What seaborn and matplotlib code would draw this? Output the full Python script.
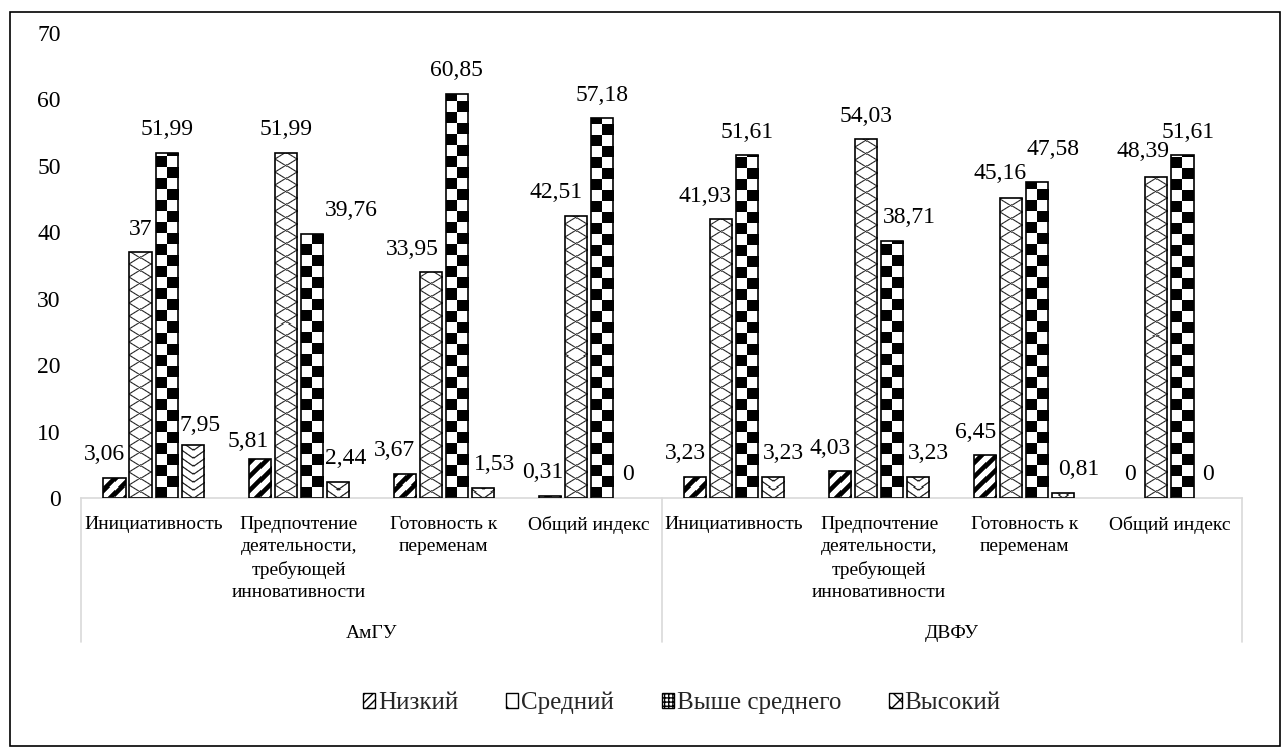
import numpy as np
import pandas as pd
import matplotlib
matplotlib.use("Agg")
import matplotlib.pyplot as plt
import seaborn as sns
from matplotlib.patches import Patch, Rectangle

# --- data -------------------------------------------------------------
universities = ["АмГУ", "ДВФУ"]
criteria = [
    "Инициативность",
    "Предпочтение\nдеятельности,\nтребующей\nинновативности",
    "Готовность к\nпеременам",
    "Общий индекс",
]
levels = ["Низкий", "Средний", "Выше среднего", "Высокий"]

amgu_low = [3.06, 5.81, 3.67, 0.31]
amgu_mid = [37, 51.99, 33.95, 42.51]
amgu_above = [51.99, 39.76, 60.85, 57.18]
amgu_high = [7.95, 2.44, 1.53, 0]

dvfu_low = [3.23, 4.03, 6.45, 0]
dvfu_mid = [41.93, 54.03, 45.16, 48.39]
dvfu_above = [51.61, 38.71, 47.58, 51.61]
dvfu_high = [3.23, 3.23, 0.81, 0]

y_ticks = [0, 10, 20, 30, 40, 50, 60, 70]

# label nudges in pixels (dx, dy), per level, per bar in plotting order
label_nudge = [
    [(-10, 0), (-11, -5), (-10, 0), (-7, 0), (-10, 0), (-10, 0), (-10, 0), (0, 0)],
    [(0, 0), (0, 0), (-18, 0), (-20, 0), (-16, 0), (0, 0), (-11, 2), (-13, 2)],
    [(0, 0), (40, 0), (0, 0), (0, 0), (0, 0), (17, 0), (16, 9), (6, 0)],
    [(7, -3), (8, 0), (12, 0), (0, 0), (10, 0), (10, 0), (15, 0), (0, 0)],
]

# --- long table for seaborn --------------------------------------------
series = {
    "АмГУ": [amgu_low, amgu_mid, amgu_above, amgu_high],
    "ДВФУ": [dvfu_low, dvfu_mid, dvfu_above, dvfu_high],
}
rows = []
keys = []
for uni in universities:
    for ci, crit in enumerate(criteria):
        key = f"{uni}|{ci}"
        keys.append(key)
        for li, lev in enumerate(levels):
            rows.append({"key": key, "level": lev, "value": series[uni][li][ci]})
df = pd.DataFrame(rows)

# --- style -------------------------------------------------------------
sns.set_theme(style="white")
plt.rcParams["font.family"] = ["Liberation Serif", "DejaVu Serif"]
plt.rcParams["hatch.linewidth"] = 1.0

W, H, DPI = 1286, 753, 100
fig = plt.figure(figsize=(W / DPI, H / DPI), dpi=DPI)
fig.patch.set_facecolor("white")

ax_left, ax_right = 81, 1242
ax_top, ax_bottom = 33, 498
ax = fig.add_axes([ax_left / W, 1 - ax_bottom / H,
                   (ax_right - ax_left) / W, (ax_bottom - ax_top) / H])

sns.barplot(data=df, x="key", y="value", hue="level", order=keys,
            hue_order=levels, palette=["white"] * 4, saturation=1,
            width=0.717, gap=0.15, edgecolor="black", linewidth=1.2,
            legend=False, errorbar=None, ax=ax)

ax.set_xlim(-0.5, len(keys) - 0.5)
ax.set_ylim(0, 70)

# --- textures ------------------------------------------------------------
def texture(kind, w, h):
    X, Y = np.meshgrid(np.arange(w) + 0.5, np.arange(h) + 0.5)
    if kind == 0:  # bold diagonal stripes
        P, half = 14.0, 3.2
        u = np.mod(X - Y, P)
        d = np.abs(u - P / 2)
        ink = np.clip(half - d + 0.5, 0, 1)
    elif kind == 1:  # thin diamond lattice
        Px, Py = 21.0, 13.0
        s = 1 / np.sqrt(1 / Px ** 2 + 1 / Py ** 2)
        a = X / Px + Y / Py
        b = X / Px - Y / Py
        da = np.abs(a - np.round(a)) * s
        db = np.abs(b - np.round(b)) * s
        ink = 0.85 * np.clip(0.55 - np.minimum(da, db) + 0.5, 0, 1)
    elif kind == 2:  # checkerboard
        c = w / 2.0
        ink = ((np.floor(X / c) + np.floor(Y / c)) % 2 == 0).astype(float)
    else:  # stacked chevrons
        P, k = 8.0, 0.7
        v = Y - k * np.abs(X - w / 2)
        f = np.abs(v / P - np.round(v / P)) * P / np.sqrt(1 + k * k)
        ink = 0.9 * np.clip(0.6 - f + 0.5, 0, 1)
    g = 1 - ink
    return np.dstack([g, g, g])

for li, cont in enumerate(ax.containers):
    for bar in cont.patches:
        bar.set_zorder(3)
        bar.set_facecolor("none")
        x0, y0 = bar.get_x(), bar.get_y()
        x1, y1 = x0 + bar.get_width(), y0 + bar.get_height()
        if bar.get_height() <= 0:
            bar.set_visible(False)
            continue
        (px0, py0), (px1, py1) = ax.transData.transform([(x0, y0), (x1, y1)])
        w = max(int(round(px1 - px0)), 1)
        h = max(int(round(py1 - py0)), 1)
        img = ax.imshow(texture(li, w, h), extent=(x0, x1, y0, y1),
                        origin="lower", interpolation="nearest",
                        aspect="auto", zorder=2)
        img.set_clip_path(bar)

ax.set_xlim(-0.5, len(keys) - 0.5)
ax.set_ylim(0, 70)

# --- value labels ----------------------------------------------------------
def fmt(v):
    return f"{v:g}".replace(".", ",")

px2pt = 72 / DPI
for li, cont in enumerate(ax.containers):
    for bi, bar in enumerate(cont.patches):
        v = bar.get_height()
        dx, dy = label_nudge[li][bi]
        ax.annotate(fmt(v), xy=(bar.get_x() + bar.get_width() / 2, v),
                    xytext=(dx * px2pt, (23 + dy) * px2pt),
                    textcoords="offset points",
                    ha="center", va="center", fontsize=17, color="black",
                    zorder=4)

# --- axes styling --------------------------------------------------------
ax.set_yticks(y_ticks)
ax.set_yticklabels([str(t) for t in y_ticks])
ax.tick_params(axis="y", length=0, pad=14.5, labelsize=17, colors="black")
ax.set_xticks(range(len(keys)))
ax.set_xticklabels(criteria * len(universities), fontsize=14,
                   linespacing=1.4, va="top")
ax.tick_params(axis="x", length=0, pad=13, colors="black")
ax.set_xlabel("")
ax.set_ylabel("")
for s in ("left", "top", "right"):
    ax.spines[s].set_visible(False)
ax.spines["bottom"].set_color("#d9d9d9")
ax.spines["bottom"].set_linewidth(1.2)
ax.grid(False)

# group separators and university names below the criteria
sep_depth = (642 - ax_bottom) / (ax_bottom - ax_top)
ncrit = len(criteria)
for b in range(len(universities) + 1):
    xb = b * ncrit - 0.5
    ax.plot([xb, xb], [0, -sep_depth], transform=ax.get_xaxis_transform(),
            color="#d9d9d9", lw=1.2, clip_on=False)
name_y = -(633 - ax_bottom) / (ax_bottom - ax_top)
for ui, uni in enumerate(universities):
    ax.text(ui * ncrit + (ncrit - 1) / 2, name_y, uni,
            transform=ax.get_xaxis_transform(), ha="center", va="center",
            fontsize=14, color="black")

# --- legend ---------------------------------------------------------------
handles = [
    Patch(facecolor="white", edgecolor="black", hatch="////", label=levels[0]),
    Patch(facecolor="white", edgecolor="black", hatch="x", label=levels[1]),
    Patch(facecolor="white", edgecolor="black", hatch="++++", label=levels[2]),
    Patch(facecolor="white", edgecolor="black", hatch="xx", label=levels[3]),
]
fig.legend(handles=handles, loc="center", bbox_to_anchor=(0.53, 1 - 703 / H),
           ncol=4, frameon=False, fontsize=18, handlelength=0.5,
           handleheight=0.5, handletextpad=0.12, columnspacing=1.9)

# outer frame
fig.patches.append(Rectangle((10 / W, 1 - 746 / H), 1270 / W, 734 / H,
                             transform=fig.transFigure, fill=False,
                             edgecolor="black", linewidth=1.2))

fig.savefig("out.png", dpi=DPI)
